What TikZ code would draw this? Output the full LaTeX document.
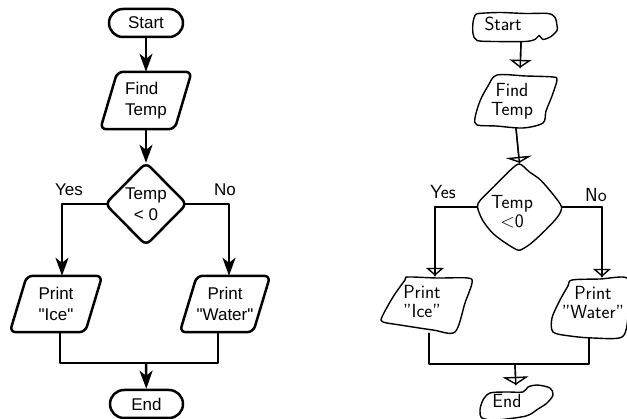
\documentclass[tikz,border=0pt]{standalone}
\usepackage{fontspec}
\newfontfamily\lf{Liberation Sans}
\usetikzlibrary{arrows.meta,calc}
\begin{document}
\begin{tikzpicture}[x=1pt,y=-1pt,
  lbox/.style={inner sep=0pt, font=\lf\fontsize{17}{21}\selectfont, align=center},
  lline/.style={line width=2.5pt, line join=round},
  larrow/.style={lline, -{Stealth[length=18pt,width=13pt,inset=5pt]}},
  lout/.style={lline, rounded corners=6pt},
  pill/.style={lbox, draw, lline, rounded corners=14pt},
  rbox/.style={inner sep=0pt},
  rtext/.style={inner sep=0pt, font=\sffamily\fontsize{19}{19}\selectfont, align=center},
  rline/.style={line width=1.4pt, line cap=round, line join=round},
  rout/.style={rline},
]
\useasboundingbox (0,0) rectangle (627,419);
\fill[white] (0,0) rectangle (627,419);
\clip (0,0) rectangle (627,419);

% ---------------- left: clean flowchart ----------------
\node[pill, minimum width=74pt, minimum height=28pt] (s1) at (146,23) {Start};
\node[lbox, minimum width=91pt, minimum height=57pt, align=left] (f1) at (146,100.5) {Find\\Temp};
\node[lbox, minimum width=81pt, minimum height=82pt] (d1) at (146,204) {Temp\\< 0};
\node[lbox, minimum width=92pt, minimum height=56pt] (pi1) at (56,304) {Print\\"Ice"};
\node[lbox, minimum width=90pt, minimum height=56pt] (pw1) at (225,304) {Print\\"Water"};
\node[pill, minimum width=73pt, minimum height=28pt] (e1) at (146.5,404) {End};
\node[lbox] (yes1) at (69,190) {Yes};
\node[lbox] (no1) at (225,190) {No};
\coordinate (m1) at (146,363);

\draw[lout] ([xshift=17pt]f1.north west) -- (f1.north east) -- ([xshift=-17pt]f1.south east) -- (f1.south west) -- cycle;
\draw[lout] ([xshift=17pt]pi1.north west) -- (pi1.north east) -- ([xshift=-17pt]pi1.south east) -- (pi1.south west) -- cycle;
\draw[lout] ([xshift=17pt]pw1.north west) -- (pw1.north east) -- ([xshift=-17pt]pw1.south east) -- (pw1.south west) -- cycle;
\draw[lout] (d1.north) -- (d1.east) -- (d1.south) -- (d1.west) -- cycle;

\draw[larrow] (s1) -- (f1);
\draw[larrow] (f1) -- (d1);
\draw[larrow, shorten <=-2pt] (d1.west) -| ([xshift=6pt]pi1.north);
\draw[larrow, shorten <=-2pt] (d1.east) -| ([xshift=4pt]pw1.north);
\draw[lline] ([xshift=4pt]pi1.south) |- (m1) -| ([xshift=-7pt]pw1.south);
\draw[larrow] (m1) -- (e1);

% ---------------- right: hand-drawn flowchart ----------------
\node[rbox, minimum width=84pt, minimum height=29pt] (s2) at (515,27.5) {};
\node[rbox, minimum width=82pt, minimum height=54pt] (f2) at (516,101) {};
\node[rbox, minimum width=85pt, minimum height=86pt] (d2) at (519.5,207) {};
\node[rbox, minimum width=90pt, minimum height=56pt] (pi2) at (427,305) {};
\node[rbox, minimum width=76pt, minimum height=60pt] (pw2) at (590,308) {};
\node[rbox, minimum width=73pt, minimum height=30pt] (e2) at (516,404) {};
\coordinate (m2) at (515,364);

\draw[rout, shift={(s2.center)}] plot[smooth cycle, tension=0.5] coordinates {
  (-36,-14) (-15,-15) (10,-14) (33,-14) (40,-10) (42,-2) (42,3) (36,9) (28,12) (24,8) (20,12) (10,14) (-20,14) (-38,13) (-42,6) (-42,-5) (-40,-12)};
\draw[rout, shift={(f2.center)}] plot[smooth cycle, tension=0.5] coordinates {
  (-19,-26) (10,-25) (37,-24) (41,-21) (36,-5) (30,10) (27,22) (7,27) (-20,25) (-39,24) (-41,17) (-36,0) (-28,-15)};
\draw[rout, shift={(d2.center)}] plot[smooth cycle, tension=0.5] coordinates {
  (0,-43) (10,-35) (21,-27) (34,-12) (42,0) (38,10) (25,24) (12,36) (3,42) (-2,43) (-14,36) (-27,26) (-37,13) (-42,0) (-39,-7) (-26,-20) (-9,-37)};
\draw[rout, shift={(pi2.center)}] plot[smooth cycle, tension=0.5] coordinates {
  (-19,-28) (10,-27) (41,-27) (45,-22) (38,-2) (28,27) (6,25) (-27,20) (-44,17) (-45,12) (-34,-8) (-22,-25)};
\draw[rout, shift={(pw2.center)}] plot[smooth cycle, tension=0.5] coordinates {
  (-18,-28) (10,-29) (37,-30) (38,-10) (38,9) (32,29) (3,30) (-20,28) (-37,24) (-38,10) (-30,-8) (-22,-22)};
\draw[rout, shift={(e2.center)}] plot[smooth cycle, tension=0.5] coordinates {
  (-36,6) (-33,-4) (-26,-11) (-10,-12) (7,-12) (12,-17) (21,-19) (34,-16) (37,-9) (31,-1) (22,5) (10,12) (-20,16) (-34,14)};

\node[rtext] (s2t) at (503,24) {Start};
\node[rtext] (f2t) at (512,101) {Find\\Temp};
\node[rtext] (d2t) at (512,212) {Temp\\<0};
\node[rtext] (pi2t) at (422,301) {Print\\"Ice"};
\node[rtext] (pw2t) at (593,302) {Print\\"Water"};
\node[rtext] (e2t) at (507,401) {End};
\node[rtext] (yes2) at (443,192) {Yes};
\node[rtext] (no2) at (596,195) {No};

\draw[rline, shorten >=6pt] ([xshift=6pt]s2.south) -- ([xshift=4pt]f2.north);
\draw[rline, shorten >=6pt, -{Triangle[open,length=8pt,width=22pt]}] ([xshift=6pt]s2.south) -- ([xshift=4pt]f2.north);
\draw[rline, shorten >=1pt] (f2.south) -- (d2.north);
\draw[rline, shorten >=1pt, -{Triangle[open,length=6pt,width=26pt]}] (f2.south) -- (d2.north);
\draw[rline, shorten >=1pt] (d2.west) -| ([xshift=8pt]pi2.north);
\draw[rline, shorten >=1pt, -{Triangle[open,length=8pt,width=18pt]}] (d2.west) -| ([xshift=8pt]pi2.north);
\draw[rline, shorten >=1pt] (d2.east) -| ([xshift=12pt]pw2.north);
\draw[rline, shorten >=1pt, -{Triangle[open,length=8pt,width=18pt]}] (d2.east) -| ([xshift=12pt]pw2.north);
\draw[rline] ([xshift=2pt]pi2.south) |- (m2) -| ([xshift=-1pt]pw2.south);
\draw[rline, shorten >=4pt] (m2) -- (e2.north);
\draw[rline, shorten >=4pt, -{Triangle[open,length=8pt,width=26pt]}] (m2) -- (e2.north);
\end{tikzpicture}
\end{document}
